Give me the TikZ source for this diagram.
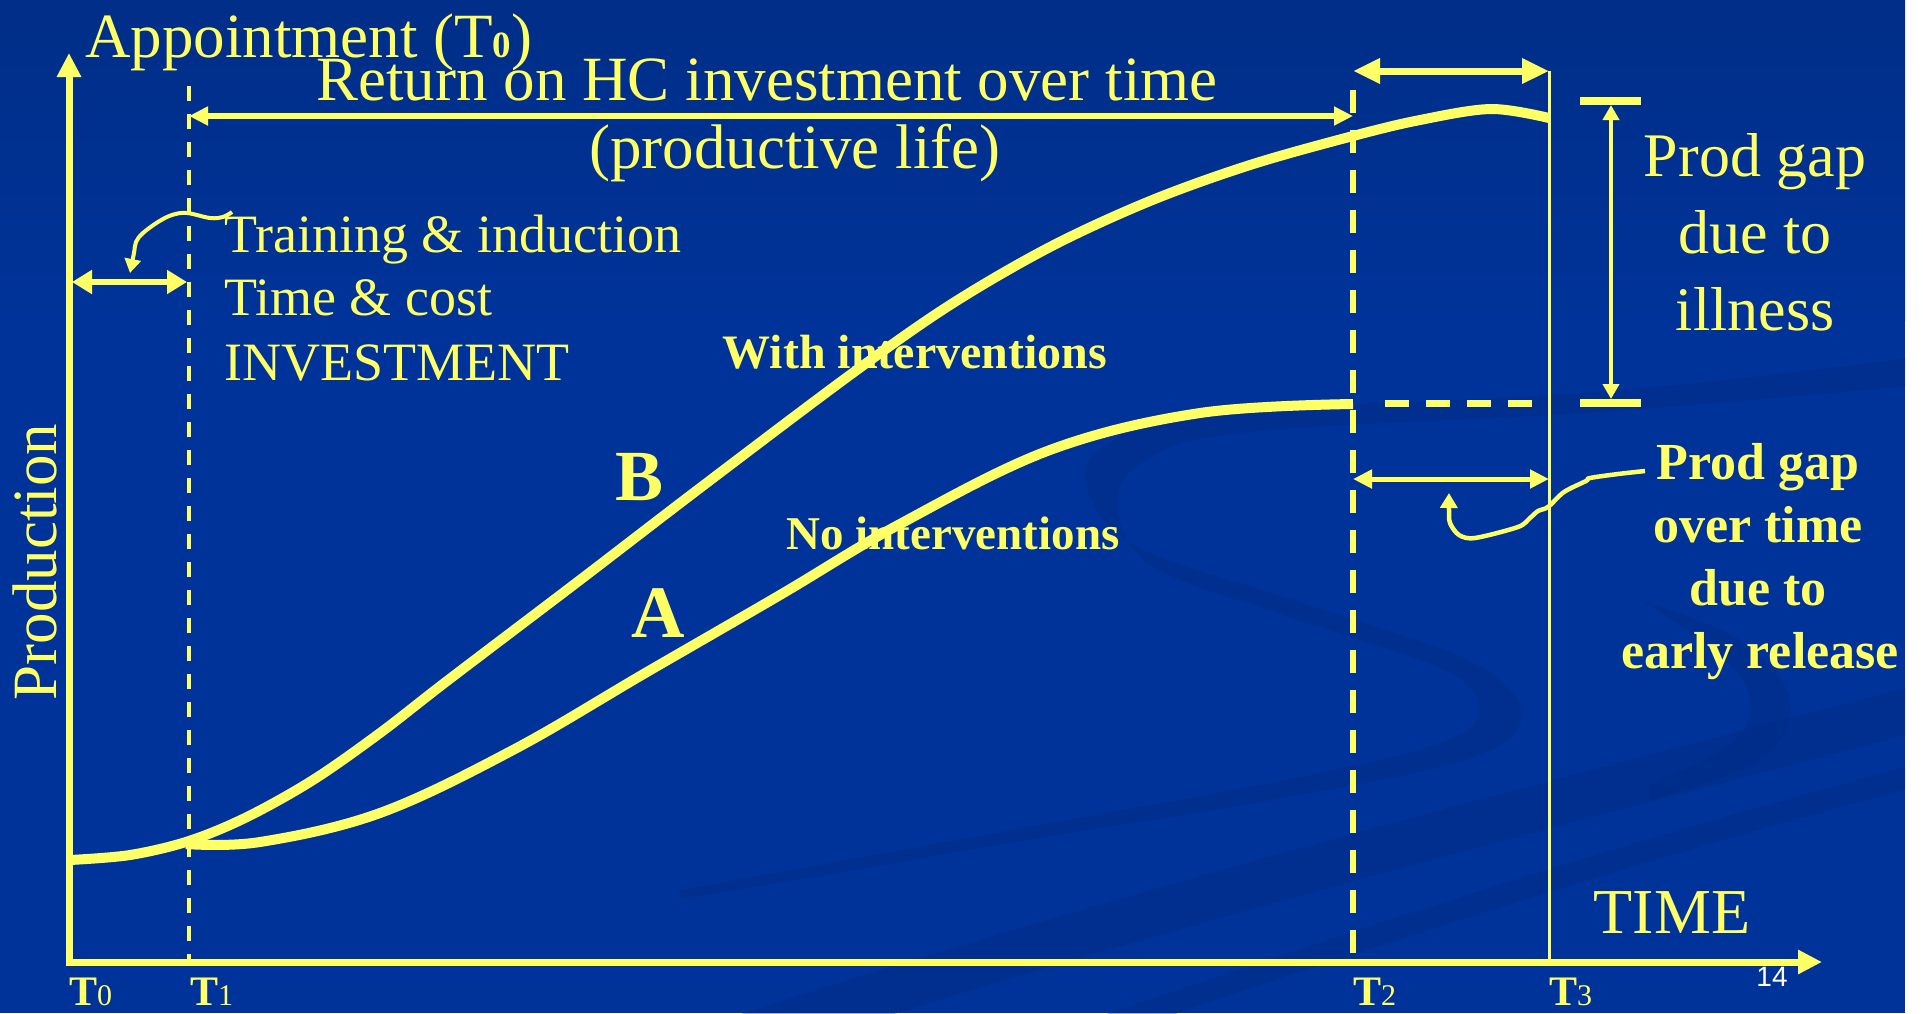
\documentclass[tikz,border=0pt]{standalone}
\usepackage{fontspec}
\setmainfont{Liberation Serif}
\newfontfamily\sansf{Liberation Sans}
\usetikzlibrary{arrows.meta}
\definecolor{bg}{HTML}{003399}
\definecolor{bgtop}{HTML}{002E88}
\definecolor{swirl}{HTML}{002A80}
\definecolor{yel}{HTML}{FFFF66}
\newcommand\setfs[1]{\fontsize{#1}{#1}\selectfont}
\tikzset{
  lbl/.style={inner sep=0pt, text=yel},
  axisline/.style={draw=yel, line width=7pt},
  curveline/.style={draw=yel, line width=10pt},
  dimline/.style={draw=yel, line width=#1},
  bigtip/.tip={Triangle[length=24pt,width=23pt]},
  midtip/.tip={Triangle[length=19pt,width=18pt]},
  smalltip/.tip={Triangle[length=15pt,width=16pt]},
  swirlfill/.style={fill=swirl, opacity=0.35},
  swirlband/.style={draw=swirl, opacity=0.35, line cap=round},
}
\begin{document}
\begin{tikzpicture}[x=1pt,y=-1pt]
\useasboundingbox (0,0) rectangle (1923,1013);
% background
\fill[white] (0,0) rectangle (1923,1013);
\fill[bg] (0,0) rectangle (1905,1013);
\shade[top color=bgtop, bottom color=bg] (0,0) rectangle (1905,320);
% decorative swirls
\begin{scope}
\clip (0,0) rectangle (1905,1013);
\fill[swirlfill] plot[smooth, tension=0.6] coordinates {
  (1910,358) (1600,392) (1220,412) (1105,445) (1088,492) (1140,548) (1300,602) (1468,660)
  (1522,714) (1472,758) (1300,795) (1000,845) (680,900)}
  -- plot[smooth, tension=0.6] coordinates {
  (680,890) (1000,832) (1300,777) (1448,740) (1478,706) (1440,668) (1280,614) (1150,565)
  (1118,502) (1150,458) (1250,432) (1600,412) (1910,386)} -- cycle;
\fill[swirlfill] plot[smooth, tension=0.6] coordinates {
  (1640,600) (1740,640) (1790,700) (1760,760) (1650,800)}
  -- plot[smooth, tension=0.6] coordinates {
  (1650,785) (1730,745) (1750,700) (1720,655) (1640,600)} -- cycle;
\draw[swirlband, line width=46pt] (720,1045) .. controls (1150,905) and (1550,805) .. (1930,705);
\draw[swirlband, line width=22pt] (1050,1045) .. controls (1400,925) and (1650,845) .. (1930,772);
\end{scope}

% coordinates
\coordinate (O) at (69,962);
\coordinate (Ytop) at (69,53);
\coordinate (Xend) at (1822,962);
\coordinate (Ybot) at (69,965.5);
\coordinate (Xbeg) at (65.5,962);
\coordinate (T1top) at (189,86);
\coordinate (T1bot) at (189,962);
\coordinate (T2top) at (1353,90);
\coordinate (T2bot) at (1353,962);
\coordinate (T3top) at (1549,71);
\coordinate (T3bot) at (1549,962);
\coordinate (RetL) at (189,116);
\coordinate (RetR) at (1353,116);
\coordinate (TopL) at (1353,71);
\coordinate (TopR) at (1549,71);
\coordinate (TrL) at (72,282);
\coordinate (TrR) at (187,282);
\coordinate (ErL) at (1353,479);
\coordinate (ErR) at (1549,479);
\coordinate (GapTop) at (1611,105);
\coordinate (GapBot) at (1611,399);
\coordinate (CapTL) at (1580,101);
\coordinate (CapTR) at (1641,101);
\coordinate (CapBL) at (1580,403);
\coordinate (CapBR) at (1641,403);
\coordinate (DashL) at (1385,403);
\coordinate (DashR) at (1534,403);

% axes
\draw[axisline, -bigtip] (Ybot) -- (Ytop);
\draw[axisline, -bigtip] (Xbeg) -- (Xend);

% time markers
\draw[dimline=4.5pt, dash pattern=on 15pt off 13pt] (T1top) -- (T1bot);
\draw[dimline=5.5pt, dash pattern=on 23pt off 17pt] (T2top) -- (T2bot);
\draw[dimline=3pt] (T3top) -- (T3bot);

% dimension arrows
\draw[dimline=6pt, midtip-midtip] (RetL) -- (RetR);
\draw[dimline=7pt, {Triangle[length=27pt,width=24pt]}-{Triangle[length=27pt,width=24pt]}] (TopL) -- (TopR);
\draw[dimline=6pt, {Triangle[length=20pt,width=23pt]}-{Triangle[length=20pt,width=23pt]}] (TrL) -- (TrR);
\draw[dimline=5pt, midtip-midtip] (ErL) -- (ErR);
\draw[dimline=8pt] (CapTL) -- (CapTR);
\draw[dimline=8pt] (CapBL) -- (CapBR);
\draw[dimline=4.5pt, smalltip-smalltip] (GapTop) -- (GapBot);
\draw[dimline=7pt, dash pattern=on 24pt off 17pt] (DashL) -- (DashR);

% curves
\draw[curveline] plot[smooth, tension=0.6] coordinates {
 (186,844) (260,842) (380,813) (513,750) (647,672) (780,595) (900,524)
 (1050,450) (1200,413) (1353,404)};
\draw[curveline] plot[smooth, tension=0.55] coordinates {
 (70,860) (130,855) (189,841) (247,817) (313,780) (380,733) (447,681) (580,580) (700,488)
 (850,375) (950,305) (1050,247) (1150,201) (1250,165) (1353,136) (1420,120) (1491,109) (1549,118)};

% hand-drawn pointer arrows
\draw[dimline=4pt, -{Triangle[length=14pt,width=16pt]}] plot[smooth, tension=0.6] coordinates {
 (232,212) (223,217) (210,218) (187,213) (172,215) (158,222) (143,233) (136,242) (134,253) (130,273)};
\draw[dimline=4.5pt, -{Triangle[length=15pt,width=17pt]}] plot[smooth, tension=0.5] coordinates {
 (1645,471) (1618,474) (1590,478) (1586,481) (1564,492) (1548,507) (1538,511) (1530,518)
 (1518,527) (1475,538) (1459,535) (1450,523) (1449,510) (1449,493)};

% texts
\node[lbl, anchor=base west, font=\setfs{63}] (appt) at (85,57) {Appointment (T{\setfs{37}\bfseries 0})};
\node[lbl, anchor=base, font=\setfs{63}] (ret) at (767,100) {Return on HC investment over time};
\node[lbl, anchor=base, font=\setfs{63}] (plife) at (795,168) {(productive life)};
\node[lbl, anchor=base west, font=\setfs{54}] (tr1) at (224,252) {Training \& induction};
\node[lbl, anchor=base west, font=\setfs{54}] (tr2) at (224,315) {Time \& cost};
\node[lbl, anchor=base west, font=\setfs{54}] (tr3) at (224,380) {INVESTMENT};
\node[lbl, anchor=base, font=\setfs{48}\bfseries] (withi) at (915,368) {With interventions};
\node[lbl, anchor=base, font=\setfs{47}\bfseries] (noi) at (953,549) {No interventions};
\node[lbl, anchor=base, font=\setfs{72}\bfseries] (lB) at (640,500) {B};
\node[lbl, anchor=base, font=\setfs{74}\bfseries] (lA) at (658,637) {A};
\node[lbl, anchor=base, font=\setfs{62}] (pg1) at (1755,176) {Prod gap};
\node[lbl, anchor=base, font=\setfs{62}] (pg2) at (1755,253) {due to};
\node[lbl, anchor=base, font=\setfs{62}] (pg3) at (1755,330) {illness};
\node[lbl, anchor=base, font=\setfs{52}\bfseries] (er1) at (1758,479) {Prod gap};
\node[lbl, anchor=base, font=\setfs{52}\bfseries] (er2) at (1758,542) {over time};
\node[lbl, anchor=base, font=\setfs{52}\bfseries] (er3) at (1758,605) {due to};
\node[lbl, anchor=base, font=\setfs{52}\bfseries] (er4) at (1760,668) {early release};
\node[lbl, anchor=base, font=\setfs{64}] (time) at (1672,933) {TIME};
\node[lbl, anchor=base, rotate=90, font=\setfs{63}] (prod) at (56,562) {Production};
\node[lbl, anchor=base west] (t0) at (69,1005) {{\setfs{42}\bfseries T}{\setfs{30}0}};
\node[lbl, anchor=base west] (t1) at (190,1005) {{\setfs{42}\bfseries T}{\setfs{30}1}};
\node[lbl, anchor=base west] (t2) at (1353,1005) {{\setfs{42}\bfseries T}{\setfs{30}2}};
\node[lbl, anchor=base west] (t3) at (1549,1005) {{\setfs{42}\bfseries T}{\setfs{30}3}};
\node[inner sep=0pt, text=white, anchor=base, font=\sansf\setfs{28}] (pnum) at (1772,986) {14};
\end{tikzpicture}
\end{document}
